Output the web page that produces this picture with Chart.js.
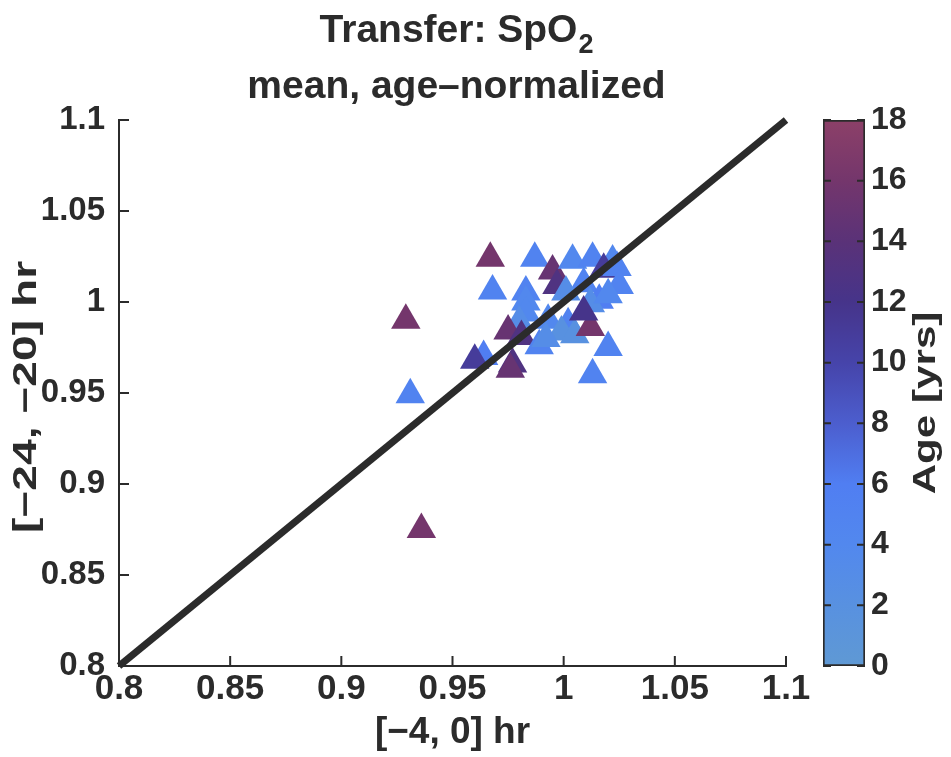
<!DOCTYPE html>
<html>
<head>
<meta charset="utf-8">
<script src="https://cdn.jsdelivr.net/npm/chart.js@4/dist/chart.umd.min.js"></script>
<style>
  html, body { margin: 0; padding: 0; background: #fff; }
  #wrap { position: relative; width: 951px; height: 757px; }
  #wrap canvas { position: absolute; top: 0; }
  #mainChart { left: 0; }
  #barChart { left: 790px; }
</style>
</head>
<body>
<div id="wrap">
  <canvas id="mainChart" width="951" height="757"></canvas>
  <canvas id="barChart" width="161" height="757"></canvas>
</div>
<script>
// ---- donnees ----
const xRecent = [0.929, 0.931, 0.936, 0.967, 0.987, 0.968, 0.983, 0.983, 0.983, 0.980,
  0.975, 0.981, 0.964, 0.960, 0.977, 0.976, 0.989, 0.995, 0.997, 1.004,
  1.013, 1.022, 1.018, 1.024, 1.025, 1.009, 1.016, 1.012, 1.002, 0.993,
  0.999, 1.005, 1.012, 1.020, 1.013, 1.009, 1.001, 1.020, 0.992]
const yEarlier = [0.990, 0.949, 0.875, 1.024, 1.024, 1.006, 1.0055, 1.000, 0.994, 0.989,
  0.984, 0.981, 0.970, 0.968, 0.966, 0.963, 0.976, 1.017, 1.009, 1.023,
  1.024, 1.0225, 1.018, 1.019, 1.009, 1.010, 1.001, 0.999, 0.988, 0.990,
  0.9835, 0.982, 0.986, 0.975, 0.960, 0.9945, 1.0055, 1.004, 0.980]
const ages = [16, 5, 16, 16, 5, 5, 5, 4, 4, 3,
  15, 13, 6, 11, 13, 15, 5, 15, 13, 4,
  5, 4, 11, 5, 5, 5, 6, 3, 5, 4,
  2, 2, 16, 5, 5, 12, 3, 4, 3]

const axisTicks = [0.8, 0.85, 0.9, 0.95, 1, 1.05, 1.1]
const ageTicks = [0, 2, 4, 6, 8, 10, 12, 14, 16, 18]
const identite = [0.8, 1.1]

// palette de la barre de couleur (age -> rgb)
const paletteAges = [0, 2, 4, 6, 8, 10, 12, 14, 16, 18]
const paletteRgb = [
  [95, 153, 212], [88, 145, 224], [82, 136, 238], [80, 126, 242], [76, 94, 206],
  [70, 68, 170], [70, 52, 138], [90, 50, 120], [116, 54, 108], [140, 64, 104]
]

function couleurAge(a) {
  let i = 0
  while (i < paletteAges.length - 2 && a > paletteAges[i + 1]) i++
  const t = Math.min(1, Math.max(0, (a - paletteAges[i]) / (paletteAges[i + 1] - paletteAges[i])))
  const c = paletteRgb[i].map((v, k) => Math.round(v + (paletteRgb[i + 1][k] - v) * t))
  return `rgb(${c[0]},${c[1]},${c[2]})`
}

const police = 'Liberation Sans, Arial, Helvetica, sans-serif'
const encre = '#2b2b2b'

// petites graduations tournees vers l'interieur
const graduations = {
  id: 'graduations',
  afterDraw(chart, args, opts) {
    const ctx = chart.ctx
    ctx.save()
    ctx.strokeStyle = encre
    ctx.lineWidth = 2
    ctx.beginPath()
    Object.values(chart.scales).forEach(s => {
      if (!s.options.display || !opts.scales.includes(s.id)) return
      s.ticks.forEach(t => {
        const p = s.getPixelForValue(t.value)
        if (s.isHorizontal()) {
          ctx.moveTo(p, s.top); ctx.lineTo(p, s.top - opts.len)
        } else {
          const a = chart.chartArea
          ctx.moveTo(a.left, p); ctx.lineTo(a.left + opts.len, p)
          if (opts.bothSides) { ctx.moveTo(a.right, p); ctx.lineTo(a.right - opts.len, p) }
        }
      })
    })
    ctx.stroke()
    ctx.restore()
  }
}

// texte vertical (lu de bas en haut), allonge dans le sens de la lecture
function texteVertical(ctx, txt, x, y, taille, etirement) {
  ctx.save()
  ctx.translate(x, y)
  ctx.rotate(-Math.PI / 2)
  ctx.scale(etirement, 1)
  ctx.fillStyle = encre
  ctx.font = `bold ${taille}px ${police}`
  ctx.textAlign = 'center'
  ctx.textBaseline = 'middle'
  ctx.fillText(txt, 0, 0)
  ctx.restore()
}

// titre sur deux lignes, avec l'indice du SpO2
const titre = {
  id: 'titre',
  afterDraw(chart) {
    const ctx = chart.ctx
    const cx = (chart.chartArea.left + chart.chartArea.right) / 2 + 4
    ctx.save()
    ctx.fillStyle = encre
    ctx.textBaseline = 'alphabetic'
    ctx.textAlign = 'left'
    const f = `bold 39px ${police}`
    const fi = `bold 27px ${police}`
    ctx.font = f
    const base = 'Transfer: SpO'
    const w1 = ctx.measureText(base).width
    ctx.font = fi
    const w2 = ctx.measureText('2').width
    const x = cx - (w1 + w2 + 1) / 2
    ctx.font = f
    ctx.fillText(base, x, 42)
    ctx.font = fi
    ctx.fillText('2', x + w1 + 1, 53)
    ctx.font = f
    ctx.textAlign = 'center'
    ctx.fillText('mean, age\u2013normalized', cx, 98)
    ctx.restore()
  }
}

const titreY = {
  id: 'titreY',
  afterDraw(chart) {
    const a = chart.chartArea
    texteVertical(chart.ctx, '[\u221224, \u221220] hr', 27, (a.top + a.bottom) / 2 + 4, 33, 1.4)
  }
}

// ---- NUAGE DE POINTS ----
new Chart(document.getElementById('mainChart'), {
  type: 'scatter',
  data: {
    datasets: [
      {
        type: 'line',
        data: identite.map(v => ({ x: v, y: v })),
        borderColor: encre,
        borderWidth: 7,
        pointRadius: 0,
        clip: false,
        order: 0
      },
      {
        data: xRecent.map((x, i) => ({ x: x, y: yEarlier[i] })),
        pointStyle: 'triangle',
        pointRadius: 17,
        pointBorderWidth: 0,
        pointBackgroundColor: ages.map(couleurAge),
        order: 1
      }
    ]
  },
  options: {
    responsive: false,
    animation: false,
    devicePixelRatio: 1,
    layout: { padding: { left: 0, right: 165, top: 120, bottom: 0 } },
    plugins: {
      legend: { display: false },
      tooltip: { enabled: false },
      graduations: { scales: ['x', 'y'], len: 10 }
    },
    scales: {
      x: {
        type: 'linear',
        min: 0.8, max: 1.1,
        afterBuildTicks: s => { s.ticks = axisTicks.map(v => ({ value: v })) },
        afterFit: s => { s.height = 91 },
        grid: { display: false, drawTicks: false },
        border: { display: true, color: encre, width: 2 },
        ticks: {
          color: encre, padding: 2, maxRotation: 0,
          font: { family: police, size: 35, weight: 'bold' },
          callback: v => String(+v.toFixed(2))
        },
        title: {
          display: true, text: '[\u22124, 0] hr', color: encre,
          font: { family: police, size: 37, weight: 'bold' },
          padding: { top: 0, bottom: 2 }
        }
      },
      y: {
        type: 'linear',
        min: 0.8, max: 1.1,
        afterBuildTicks: s => { s.ticks = axisTicks.map(v => ({ value: v })) },
        afterFit: s => { s.width = 119 },
        grid: { display: false, drawTicks: false },
        border: { display: true, color: encre, width: 2 },
        ticks: {
          color: encre, padding: 14,
          font: { family: police, size: 33, weight: 'bold' },
          callback: v => String(+v.toFixed(2))
        }
      }
    }
  },
  plugins: [graduations, titre, titreY]
})

// ---- BARRE DE COULEUR ----
const titreBarre = {
  id: 'titreBarre',
  afterDraw(chart) {
    const a = chart.chartArea
    texteVertical(chart.ctx, 'Age [yrs]', 136, (a.top + a.bottom) / 2 + 10, 31, 1.36)
  }
}

new Chart(document.getElementById('barChart'), {
  type: 'bar',
  data: {
    labels: [''],
    datasets: [{
      data: [[ageTicks[0], ageTicks[ageTicks.length - 1]]],
      barPercentage: 1,
      categoryPercentage: 1,
      borderColor: encre,
      borderWidth: 2,
      borderSkipped: false,
      backgroundColor: c => {
        const a = c.chart.chartArea
        if (!a) return null
        const g = c.chart.ctx.createLinearGradient(0, a.bottom, 0, a.top)
        const max = paletteAges[paletteAges.length - 1]
        paletteAges.forEach(v => g.addColorStop(v / max, couleurAge(v)))
        return g
      }
    }]
  },
  options: {
    responsive: false,
    animation: false,
    devicePixelRatio: 1,
    layout: { padding: { left: 33, right: 0, top: 120, bottom: 91 } },
    plugins: {
      legend: { display: false },
      tooltip: { enabled: false },
      graduations: { scales: ['y'], len: 8, bothSides: true }
    },
    scales: {
      x: { display: false },
      y: {
        position: 'right',
        min: 0, max: 18,
        afterBuildTicks: s => { s.ticks = ageTicks.map(v => ({ value: v })) },
        afterFit: s => { s.width = 86 },
        grid: { display: false, drawTicks: false },
        border: { display: false },
        ticks: {
          color: encre, padding: 6,
          font: { family: police, size: 32, weight: 'bold' }
        }
      }
    }
  },
  plugins: [graduations, titreBarre]
})
</script>
</body>
</html>
